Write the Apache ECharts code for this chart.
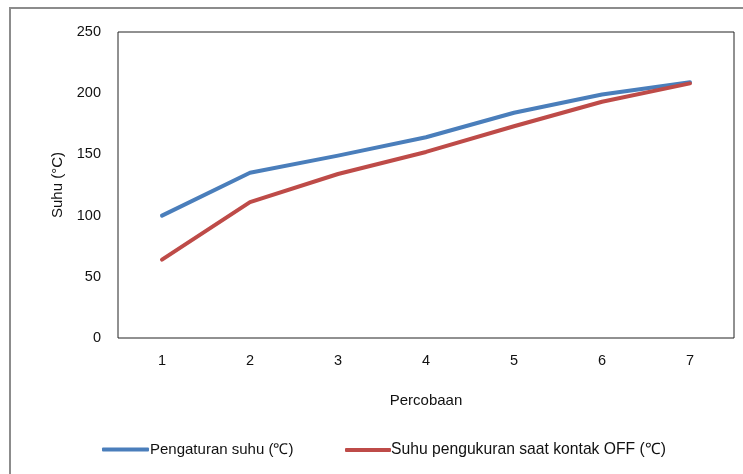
<!DOCTYPE html>
<html><head><meta charset="utf-8">
<script src="https://cdn.jsdelivr.net/npm/echarts@6/dist/echarts.min.js"></script>
<style>html,body{margin:0;padding:0;background:#fff}#c{width:743px;height:474px}</style>
</head><body><div id="c"></div>
<script>
const categories = ['1','2','3','4','5','6','7'];
const pengaturan = [100, 135, 149, 164, 184, 199, 209];
const pengukuran = [64, 111, 134, 152, 173, 193, 208];
const seriesNames = ['Pengaturan suhu (℃)', 'Suhu pengukuran saat kontak OFF (℃)'];
const yTitle = 'Suhu (°C)';
const xTitle = 'Percobaan';

const chart = echarts.init(document.getElementById('c'));
const font = 'Liberation Sans, Arial, sans-serif';
chart.setOption({
  animation: false,
  graphic: [{
    type: 'polyline', shape: {points: [[10, 474], [10, 8], [743, 8]]},
    style: {stroke: '#8c8c8c', lineWidth: 2, fill: null}
  }],
  grid: {left: 118, right: 9, top: 32, bottom: 136, show: true, borderColor: '#222', borderWidth: 1, backgroundColor: 'transparent'},
  legend: [{
    data: [seriesNames[0]], left: 97, top: 437, icon: 'roundRect', itemWidth: 47, itemHeight: 4, itemGap: 4,
    textStyle: {fontFamily: font, fontSize: 15, color: '#111', padding: [0, 0, 0, -4]}
  }, {
    data: [seriesNames[1]], left: 340, top: 437, icon: 'roundRect', itemWidth: 46, itemHeight: 4,
    textStyle: {fontFamily: font, fontSize: 15.7, color: '#111', padding: [0, 0, 0, -5]}
  }],
  xAxis: {
    type: 'category', data: categories, boundaryGap: true,
    name: xTitle, nameLocation: 'middle', nameGap: 55,
    nameTextStyle: {fontFamily: font, fontSize: 15, color: '#111'},
    axisLine: {show: false}, axisTick: {show: false},
    axisLabel: {fontFamily: font, fontSize: 14.5, color: '#111', margin: 15}
  },
  yAxis: {
    type: 'value', min: 0, max: 250, interval: 50,
    name: yTitle, nameLocation: 'middle', nameGap: 53, nameRotate: 90,
    nameTextStyle: {fontFamily: font, fontSize: 15, color: '#111'},
    axisLine: {show: false}, axisTick: {show: false}, splitLine: {show: false},
    axisLabel: {fontFamily: font, fontSize: 14.5, color: '#111', margin: 17}
  },
  series: [{
    name: seriesNames[0], type: 'line', data: pengaturan, symbol: 'none',
    lineStyle: {width: 4, color: '#4a7ebb', cap: 'round', join: 'round'}, itemStyle: {color: '#4a7ebb'}
  }, {
    name: seriesNames[1], type: 'line', data: pengukuran, symbol: 'none',
    lineStyle: {width: 4, color: '#be4b48', cap: 'round', join: 'round'}, itemStyle: {color: '#be4b48'}
  }]
});
</script></body></html>
